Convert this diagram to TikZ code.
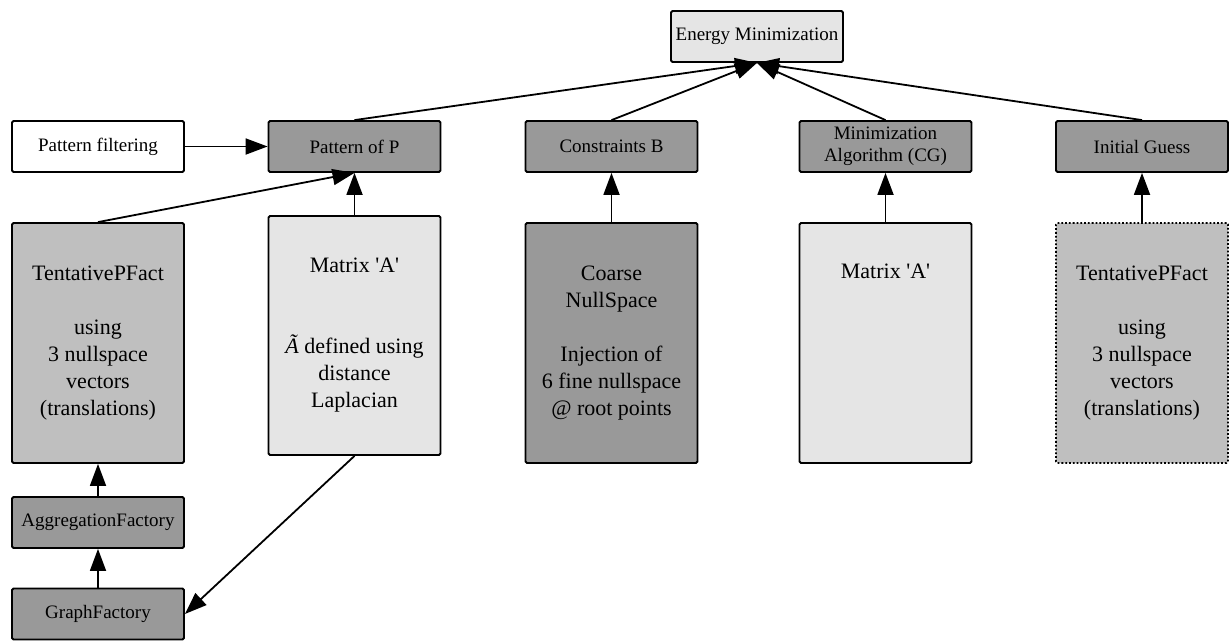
\documentclass[tikz,border=0pt]{standalone}
\usepackage{fontspec}
\setmainfont{Liberation Serif}[Ligatures=TeXOff]
\usetikzlibrary{arrows.meta}

\begin{document}
\begin{tikzpicture}[
    x=1pt,
    y=-1pt,
    line width=1.8pt,
    >={Triangle[length=22pt,width=16pt]},
    every node/.style={
        draw,
        rectangle,
        rounded corners=1.5pt,
        align=center,
        inner sep=2pt,
        minimum width=172pt},
    small/.style={
        font=\fontsize{19}{22}\selectfont,
        minimum height=51pt},
    tall/.style={
        font=\fontsize{22}{27}\selectfont,
        execute at begin node=\rule{0pt}{23pt},
        minimum height=240pt}]
    \useasboundingbox (0,0) rectangle (1231,640);

    \node[small, fill=black!10] (A) at (757,36.5) {Energy Minimization};

    \node[small, fill=white] (B) at (98,146.5) {Pattern filtering};
    \node[small, fill=black!40] (C) at (354.5,146.5) {Pattern of P};
    \node[small, fill=black!40] (D) at (611.5,146.5) {Constraints B};
    \node[small, fill=black!40] (E) at (885.5,146.5) {Minimization\\Algorithm (CG)};
    \node[small, fill=black!40] (F) at (1142,146.5) {Initial Guess};

    \node[tall, fill=black!25] (G) at (98,343) {TentativePFact\\[27pt]using\\3 nullspace\\vectors\\(translations)};
    \node[tall, fill=black!10, minimum height=239pt] (H) at (354.5,335.5) {Matrix 'A'\\[54pt]\textit{Ã} defined using\\distance\\Laplacian};
    \node[tall, fill=black!40] (I) at (611.5,343) {Coarse\\NullSpace\\[27pt]Injection of\\6 fine nullspace\\@ root points};
    \node[tall, fill=black!10] (J) at (885.5,343) {Matrix 'A'\\[108pt]\strut};
    \node[tall, fill=black!25, dotted] (K) at (1142,343) {TentativePFact\\[27pt]using\\3 nullspace\\vectors\\(translations)};

    \node[small, fill=black!40] (L) at (98,522.5) {AggregationFactory};
    \node[small, fill=black!40] (M) at (98,614) {GraphFactory};

    \draw[->] (B) -- (C);
    \draw[->] (C.north) -- (A.south);
    \draw[->] (D.north) -- (A.south);
    \draw[->] (E.north) -- (A.south);
    \draw[->] (F.north) -- (A.south);
    \draw[->] (G.north) -- (C.south);
    \draw[->] (H) -- (C);
    \draw[->] (I) -- (D);
    \draw[->] (J) -- (E);
    \draw[->] (K) -- (F);
    \draw[->] (L) -- (G);
    \draw[->] (M) -- (L);
    \draw[->] (H.south) -- (M.east);
\end{tikzpicture}
\end{document}
